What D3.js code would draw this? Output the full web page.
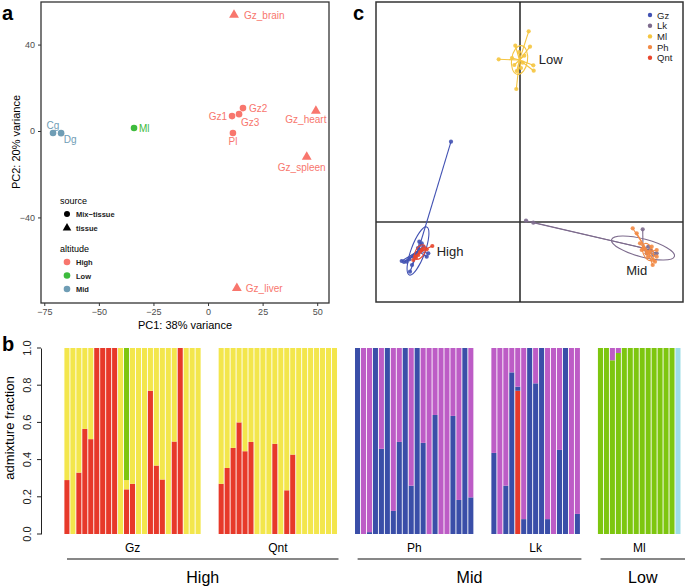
<!DOCTYPE html>
<html><head><meta charset="utf-8">
<script src="https://cdn.jsdelivr.net/npm/d3@7"></script>
<style>body{margin:0;background:#fff}svg{display:block;font-family:"Liberation Sans",Arial,sans-serif}</style>
</head><body>
<svg id="c" width="685" height="587"></svg>
<script>
// ---------- Panel a: PCA ----------
const pcaLabels = ["Gz_brain","Gz2","Gz1","Gz3","Pl","Gz_heart","Gz_spleen","Gz_liver","Ml","Cg","Dg"];
const pc1 = [11.9,16,11,14.2,11.4,49.4,45.2,13.2,-33.9,-71,-67.3];
const pc2 = [53.7,10.6,6.9,7.8,-0.9,9.3,-12,-72.7,1.4,-0.9,-1];
const pcaSource = ["tissue","Mix-tissue","Mix-tissue","Mix-tissue","Mix-tissue","tissue","tissue","tissue","Mix-tissue","Mix-tissue","Mix-tissue"];
const pcaAltitude = ["High","High","High","High","High","High","High","High","Low","Mid","Mid"];
const pc1Ticks = [-75,-50,-25,0,25,50];
const pc2Ticks = [-40,0,40];
const altitudeLevels = ["High","Low","Mid"];
const sourceLevels = ["Mix\u2212tissue","tissue"];

// ---------- Panel b: admixture ----------
const gzRed    = [0.29,0,0.33,0.565,0.51,1,1,1,1,0,0.24,0.27,0,0,0.77,0.368,0.293,0,0.497,1,0,0,0];
const gzYellow = [0.71,1,0.67,0.435,0.49,0,0,0,0,1,0.05,0.73,1,1,0.23,0.632,0.707,1,0.503,0,1,1,1];
const gzGreen  = [0,0,0,0,0,0,0,0,0,0,0.71,0,0,0,0,0,0,0,0,0,0,0,0];
const qntRed    = [0.27,0.355,0.463,0.60,0.445,0.495,0,0,0,0.485,0,0.235,0.427,0,0,0,0,0,0,0];
const qntYellow = [0.73,0.645,0.537,0.40,0.555,0.505,1,1,1,0.515,1,0.765,0.573,1,1,1,1,1,1,1];
const phBlue    = [1,0,0.01,1,0.458,1,0.124,0.495,1,0.26,1,0.49,0,0.64,0,0,0.635,0.183,1,0.197];
const phMagenta = [0,1,0.99,0,0.542,0,0.876,0.505,0,0.74,0,0.51,1,0.36,1,1,0.365,0.817,0,0.803];
const lkRed     = [0,0,0,0,0.77,0,0,0,0,0,0,0,0,0,0];
const lkBlue    = [0.436,0,0.26,0.869,0.022,0.08,1,0.81,1,0.08,0,0.452,1,0,0.108];
const lkMagenta = [0.564,1,0.74,0.131,0.208,0.92,0,0.19,0,0.92,1,0.548,0,1,0.892];
const mlGreen   = [1,1,0.934,0.973,1,1,1,1,1,1,1,1,1,0];
const mlMagenta = [0,0,0.066,0.027,0,0,0,0,0,0,0,0,0,0];
const mlCyan    = [0,0,0,0,0,0,0,0,0,0,0,0,0,1];
const popNames = ["Gz","Qnt","Ph","Lk","Ml"];
const regionNames = ["High","Mid","Low"];
const regionPops = [["Gz","Qnt"],["Ph","Lk"],["Ml"]];
const admixTicks = [0,0.2,0.4,0.6,0.8,1.0];

// ---------- Panel c: DAPC ----------
const dapcGroups = ["Gz","Lk","Ml","Ph","Qnt"];
const gzX = [-6.9,-11.83,-11.07,-9.83,-9.33,-9.17,-11.0,-10.0,-10.33,-10.67,-11.33,-9.67,-10.07,-11.6,-10.2,-10.8];
const gzY = [8.03,-3.9,-3.73,-2.13,-3.47,-3.13,-4.97,-2.8,-3.13,-3.47,-3.97,-2.47,-1.97,-4.0,-2.6,-4.3];
const lkX = [0.6,1.33,12.27,13.0,12.67,13.33,12.83,13.67,13.1];
const lkY = [0.13,-0.07,-0.73,-2.8,-3.13,-3.3,-2.47,-3.13,-2.9];
const mlX = [0.87,-0.47,1.0,-2.13,1.37,-0.37,-0.57,-0.33,0.27,0.43,1.33,-0.1,-0.8,0.1];
const mlY = [19.07,17.63,17.53,16.27,15.13,13.3,15.7,15.1,15.93,16.63,15.67,17.0,16.4,15.4];
const phX = [11.27,11.67,12.0,12.33,13.0,13.33,13.27,13.67,12.67,12.17,13.67,13.17,13.5,12.8];
const phY = [-0.63,-1.13,-2.13,-2.63,-2.97,-3.8,-4.3,-3.47,-3.13,-2.8,-2.8,-2.47,-3.97,-3.5];
const qntX = [-8.77,-10.67,-10.5,-9.83,-10.17,-9.67,-9.33,-10.4,-10.0];
const qntY = [-2.4,-3.8,-3.47,-2.8,-3.3,-2.63,-2.73,-3.6,-3.0];
const centroidX = [-10.2,12.3,-0.05,12.8,-10.0];
const centroidY = [-2.9,-2.6,16.2,-3.0,-3.0];
const ellipseRx = [0.7,3.25,0.8,0.5,0.45];
const ellipseRy = [2.55,0.9,1.45,0.9,0.8];
const ellipseAngle = [20,14.8,8,-20,30];
const clusterLabels = ["Low","High","Mid"];
const clusterLabelX = [1.87,-8.33,11.67];
const clusterLabelY = [16.27,-2.87,-4.8];

// ---------- drawing ----------
const svg = d3.select("#c");

// Panel a
{
  const x = d3.scaleLinear().domain([-76.5,55.4]).range([41,329]);
  const y = d3.scaleLinear().domain([-79.6,59.7]).range([303,2]);
  const col = d3.scaleOrdinal().domain(altitudeLevels).range(["#F8766D","#3DBB3D","#6F9DB5"]);
  const g = svg.append("g");
  g.append("g").attr("transform","translate(0,303)")
    .call(d3.axisBottom(x).tickValues(pc1Ticks).tickSize(3).tickSizeOuter(0))
    .call(a=>{a.select(".domain").remove();a.selectAll("text").attr("font-size",9).attr("fill","#4d4d4d").attr("dy","0.65em");a.selectAll("line").attr("stroke","#333");});
  g.append("g").attr("transform","translate(41,0)")
    .call(d3.axisLeft(y).tickValues(pc2Ticks).tickSize(3).tickSizeOuter(0))
    .call(a=>{a.select(".domain").remove();a.selectAll("text").attr("font-size",9).attr("fill","#4d4d4d");a.selectAll("line").attr("stroke","#333");});
  g.append("rect").attr("x",41).attr("y",2).attr("width",288).attr("height",301)
    .attr("fill","none").attr("stroke","#333").attr("stroke-width",1.3);
  g.append("text").attr("x",185).attr("y",329).attr("text-anchor","middle").attr("font-size",11).text("PC1: 38% variance");
  g.append("text").attr("transform","translate(20,142) rotate(-90)").attr("text-anchor","middle").attr("font-size",11).text("PC2: 20% variance");
  const tri = d3.symbol().type(d3.symbolTriangle).size(42);
  pcaLabels.forEach((lab,i)=>{
    const px=x(pc1[i]), py=y(pc2[i]);
    if(pcaSource[i]==="tissue") g.append("path").attr("d",tri()).attr("transform",`translate(${px},${py})`).attr("fill",col(pcaAltitude[i]));
    else g.append("circle").attr("cx",px).attr("cy",py).attr("r",3.3).attr("fill",col(pcaAltitude[i]));
  });
  const labelLayout = [["start",10,4],["start",6,4],["end",-5,4],["start",2,12],["middle",0,12],["middle",-10,12],["middle",-5,14],["start",9,4],["start",5,4],["middle",0,-4],["middle",9,10]];
  pcaLabels.forEach((lab,i)=>{
    const [anc,dx,dy]=labelLayout[i];
    g.append("text").attr("x",x(pc1[i])+dx).attr("y",y(pc2[i])+dy).attr("text-anchor",anc)
      .attr("font-size",10).attr("fill",col(pcaAltitude[i])).text(lab);
  });
  // legend
  g.append("text").attr("x",60).attr("y",204).attr("font-size",9).text("source");
  sourceLevels.forEach((s,i)=>{
    const yy=214+i*14;
    if(i===0) g.append("circle").attr("cx",67).attr("cy",yy).attr("r",3).attr("fill","#000");
    else g.append("path").attr("d",d3.symbol().type(d3.symbolTriangle).size(32)()).attr("transform",`translate(67,${yy})`).attr("fill","#000");
    g.append("text").attr("x",76).attr("y",yy+3).attr("font-size",7.5).attr("font-weight","bold").attr("fill","#222").text(s);
  });
  g.append("text").attr("x",60).attr("y",252).attr("font-size",9).text("altitude");
  altitudeLevels.forEach((s,i)=>{
    const yy=262+i*13.5;
    g.append("circle").attr("cx",67).attr("cy",yy).attr("r",3.3).attr("fill",col(s));
    g.append("text").attr("x",76).attr("y",yy+3).attr("font-size",7.5).attr("font-weight","bold").attr("fill","#222").text(s);
  });
  svg.append("text").attr("x",2).attr("y",20).attr("font-size",20).attr("font-weight","bold").text("a");
}

// Panel b
{
  const yB = d3.scaleLinear().domain([0,1]).range([534,348]);
  const cc = {red:"#E7392A",yellow:"#F3E64C",green:"#7DC60F",blue:"#3A4EA8",magenta:"#BD5CC6",cyan:"#9DDDE6"};
  const pops = [
    {name:"Gz",layers:[["red",gzRed],["yellow",gzYellow],["green",gzGreen]]},
    {name:"Qnt",layers:[["red",qntRed],["yellow",qntYellow]]},
    {name:"Ph",layers:[["blue",phBlue],["magenta",phMagenta]]},
    {name:"Lk",layers:[["red",lkRed],["blue",lkBlue],["magenta",lkMagenta]]},
    {name:"Ml",layers:[["green",mlGreen],["magenta",mlMagenta],["cyan",mlCyan]]}
  ];
  const gapSlots = 2.87;
  let slot = 0;
  pops.forEach(p=>{p.start=slot; p.n=p.layers[0][1].length; slot+=p.n+gapSlots;});
  const totalSlots = slot-gapSlots;
  const xs = d3.scaleLinear().domain([0,totalSlots]).range([64,681]);
  const step = xs(1)-xs(0);
  const g = svg.append("g");
  pops.forEach(p=>{
    for(let i=0;i<p.n;i++){
      let acc=0;
      p.layers.forEach(([c,vals])=>{
        const v=vals[i]; if(v<=0){return;}
        g.append("rect").attr("x",xs(p.start+i)+0.4).attr("width",step-0.9)
          .attr("y",yB(acc+v)).attr("height",yB(acc)-yB(acc+v)).attr("fill",cc[c]);
        acc+=v;
      });
    }
    p.cx = (xs(p.start)+xs(p.start+p.n))/2;
    g.append("text").attr("x",p.cx).attr("y",552).attr("text-anchor","middle").attr("font-size",12).text(p.name);
  });
  const ax = g.append("g").attr("transform","translate(41,0)")
    .call(d3.axisLeft(yB).tickValues(admixTicks).tickFormat(d3.format(".1f")).tickSize(4).tickSizeOuter(0));
  ax.select(".domain").attr("stroke","#222");
  ax.selectAll("line").attr("stroke","#222");
  ax.selectAll("text").attr("font-size",11).attr("fill","#222")
    .attr("transform",d=>`translate(-10,${yB(d)}) rotate(-90)`).attr("x",0).attr("y",0).attr("dy",0)
    .attr("text-anchor","middle");
  ax.selectAll(".tick").attr("transform",null);
  ax.selectAll(".tick line").attr("transform",d=>`translate(0,${yB(d)})`);
  g.append("text").attr("transform","translate(14,428) rotate(-90)").attr("text-anchor","middle").attr("font-size",13).text("admixture fraction");
  regionNames.forEach((r,k)=>{
    const ps = pops.filter(p=>regionPops[k].includes(p.name));
    const x0 = xs(ps[0].start)+3, x1 = Math.min(685, xs(ps[ps.length-1].start+ps[ps.length-1].n)+ (k===2?10:1));
    g.append("line").attr("x1",x0).attr("x2",x1).attr("y1",559).attr("y2",559).attr("stroke","#111").attr("stroke-width",1.1);
    g.append("text").attr("x",(x0+x1)/2).attr("y",583).attr("text-anchor","middle").attr("font-size",16).text(r);
  });
  svg.append("text").attr("x",2).attr("y",351).attr("font-size",20).attr("font-weight","bold").text("b");
}

// Panel c
{
  const x = d3.scaleLinear().domain([-14.4,16.3]).range([376,683]);
  const y = d3.scaleLinear().domain([-8,22]).range([302,2]);
  const col = d3.scaleOrdinal().domain(dapcGroups).range(["#4252B3","#7D6B8D","#F5C540","#F28A45","#E8462E"]);
  const xsAll = [gzX,lkX,mlX,phX,qntX], ysAll=[gzY,lkY,mlY,phY,qntY];
  const g = svg.append("g");
  g.append("rect").attr("x",376).attr("y",2).attr("width",307).attr("height",300).attr("fill","none").attr("stroke","#333").attr("stroke-width",1.5);
  g.append("line").attr("x1",x(0)).attr("x2",x(0)).attr("y1",2).attr("y2",302).attr("stroke","#222").attr("stroke-width",1.5);
  g.append("line").attr("x1",376).attr("x2",683).attr("y1",y(0)).attr("y2",y(0)).attr("stroke","#333").attr("stroke-width",1.5);
  const order = [2,1,3,0,4];
  order.forEach(k=>{
    const gx=xsAll[k], gy=ysAll[k];
    gx.forEach((v,i)=>{
      g.append("line").attr("x1",x(centroidX[k])).attr("y1",y(centroidY[k])).attr("x2",x(v)).attr("y2",y(gy[i]))
        .attr("stroke",col(dapcGroups[k])).attr("stroke-width",1.1);
    });
    g.append("ellipse").attr("cx",0).attr("cy",0)
      .attr("rx",x(ellipseRx[k])-x(0)).attr("ry",y(0)-y(ellipseRy[k]))
      .attr("transform",`translate(${x(centroidX[k])},${y(centroidY[k])}) rotate(${ellipseAngle[k]})`)
      .attr("fill","none").attr("stroke",col(dapcGroups[k])).attr("stroke-width",1.1);
    gx.forEach((v,i)=>{
      g.append("circle").attr("cx",x(v)).attr("cy",y(gy[i])).attr("r",2.1).attr("fill",col(dapcGroups[k])).attr("fill-opacity",0.9);
    });
  });
  clusterLabels.forEach((l,i)=>{
    g.append("text").attr("x",x(clusterLabelX[i])).attr("y",y(clusterLabelY[i])+5).attr("text-anchor",i===2?"middle":"start")
      .attr("font-size",13).attr("fill","#222").text(l);
  });
  dapcGroups.forEach((s,i)=>{
    const yy=15+i*10.7;
    g.append("circle").attr("cx",650).attr("cy",yy).attr("r",2.2).attr("fill",col(s));
    g.append("text").attr("x",657).attr("y",yy+3.5).attr("font-size",9.5).attr("fill","#222").text(s);
  });
  svg.append("text").attr("x",353).attr("y",20).attr("font-size",20).attr("font-weight","bold").text("c");
}
</script>
</body></html>
